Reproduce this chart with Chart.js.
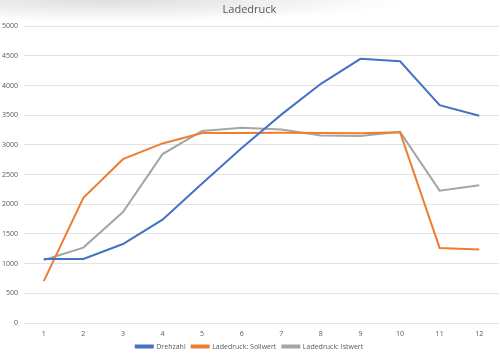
<!DOCTYPE html>
<html>
<head>
<meta charset="utf-8">
<script src="https://cdn.jsdelivr.net/npm/chart.js@4.4.0/dist/chart.umd.min.js"></script>
<style>
  html, body { margin: 0; padding: 0; background: #fff; }
  #wrap {
    position: relative; width: 500px; height: 360px;
    background: radial-gradient(ellipse 300px 22px at 110px 0px, rgba(0,0,0,0.13), rgba(0,0,0,0) 100%), #fff;
  }
  canvas { position: absolute; left: 0; top: 0; }
</style>
</head>
<body>
<div id="wrap"><canvas id="chart" width="500" height="360"></canvas></div>
<script>
// Ladedruck chart data
const labels = ['1', '2', '3', '4', '5', '6', '7', '8', '9', '10', '11', '12'];
const drehzahl = [1080, 1080, 1330, 1740, 2350, 2950, 3510, 4030, 4450, 4410, 3670, 3490];
const sollwert = [705, 2110, 2760, 3025, 3200, 3200, 3205, 3200, 3195, 3215, 1265, 1240];
const istwert = [1060, 1270, 1870, 2845, 3235, 3290, 3260, 3160, 3150, 3220, 2230, 2320];
const yTicks = [0, 500, 1000, 1500, 2000, 2500, 3000, 3500, 4000, 4500, 5000];

const blue = '#4472C4';
const orange = '#ED7D31';
const gray = '#A5A5A5';
const textColor = '#595959';

function series(label, data, color) {
    return {
        label: label,
        data: data,
        borderColor: color,
        backgroundColor: color,
        borderWidth: 2,
        pointRadius: 0,
        tension: 0,
        fill: false
    };
}

document.addEventListener('DOMContentLoaded', function() {
    const ctx = document.getElementById('chart');
    new Chart(ctx, {
        type: 'line',
        data: {
            labels: labels,
            datasets: [
                series('Drehzahl', drehzahl, blue),
                series('Ladedruck: Sollwert', sollwert, orange),
                series('Ladedruck: Istwert', istwert, gray)
            ]
        },
        options: {
            responsive: false,
            animation: false,
            layout: { padding: { left: 0, right: 1, top: 0, bottom: 0 } },
            plugins: {
                title: {
                    display: true,
                    text: 'Ladedruck',
                    color: textColor,
                    font: { family: 'Open Sans', size: 11, weight: 'normal' },
                    padding: { top: 3, bottom: 10 }
                },
                legend: {
                    position: 'bottom',
                    labels: {
                        boxWidth: 17,
                        boxHeight: 2,
                        color: textColor,
                        font: { family: 'Open Sans', size: 7 },
                        padding: 6
                    }
                },
                tooltip: { enabled: false }
            },
            scales: {
                y: {
                    min: 0,
                    max: 5000,
                    afterBuildTicks: function(axis) {
                        axis.ticks = yTicks.map(v => ({ value: v }));
                    },
                    afterFit: function(axis) { axis.width = 24; },
                    border: { display: false },
                    grid: { color: '#e3e3e3', lineWidth: 1, drawTicks: false },
                    ticks: {
                        color: textColor,
                        font: { family: 'Open Sans', size: 7 },
                        padding: 6,
                        callback: function(value) { return String(value); }
                    }
                },
                x: {
                    offset: true,
                    afterFit: function(axis) { axis.height = 14; },
                    border: { display: false },
                    grid: { display: false, drawTicks: false },
                    ticks: {
                        color: textColor,
                        font: { family: 'Open Sans', size: 7 },
                        padding: 7,
                        maxRotation: 0
                    }
                }
            }
        }
    });
});
</script>
</body>
</html>
